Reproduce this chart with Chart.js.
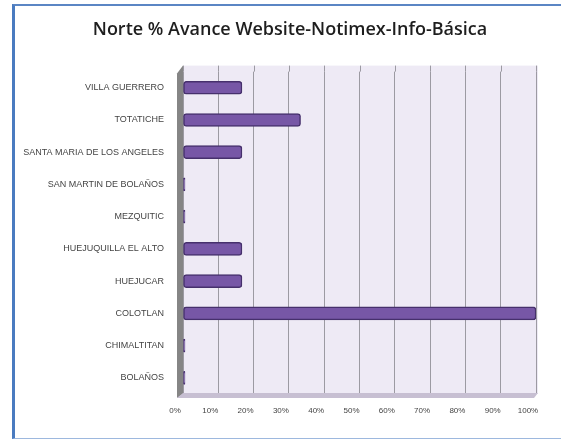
<!DOCTYPE html>
<html>
<head>
<meta charset="utf-8">
<script src="https://cdn.jsdelivr.net/npm/chart.js@4.4.1/dist/chart.umd.min.js"></script>
<style>
  html, body { margin: 0; padding: 0; background: #fff; }
  #wrap { position: relative; width: 561px; height: 439px; overflow: hidden; }
  #frame { position: absolute; left: 12px; top: 4px; width: 600px; height: 432px;
           border-left: 3px solid #4A7BC0; border-top: 2px solid #5B86C4; border-bottom: 1px solid #9DB8DE; }
  canvas { position: absolute; left: 0; top: 0; }
</style>
</head>
<body>
<div id="wrap">
  <div id="frame"></div>
  <canvas id="Chart1" width="561" height="439"></canvas>
</div>
<script>
const categories = [
    "VILLA GUERRERO",
    "TOTATICHE",
    "SANTA MARIA DE LOS ANGELES",
    "SAN MARTIN DE BOLAÑOS",
    "MEZQUITIC",
    "HUEJUQUILLA EL ALTO",
    "HUEJUCAR",
    "COLOTLAN",
    "CHIMALTITAN",
    "BOLAÑOS",
];
const avance = [0.167, 0.333, 0.167, 0, 0, 0.167, 0.167, 1, 0, 0];
const xTicks = [0, 0.1, 0.2, 0.3, 0.4, 0.5, 0.6, 0.7, 0.8, 0.9, 1];

// lavender back wall, grey side wall and floor (fake 3D)
const wallPlugin = {
    id: "walls",
    beforeDraw(chart) {
        const { ctx, chartArea: a } = chart;
        ctx.save();
        ctx.fillStyle = "#EEEAF5";
        ctx.fillRect(a.left, a.top - 6, a.right - a.left + 2, a.bottom - a.top + 6);
        ctx.strokeStyle = "#9C9AA2";
        ctx.lineWidth = 1;
        chart.scales.x.ticks.forEach((t) => {
            const x = Math.round(chart.scales.x.getPixelForValue(t.value)) + 0.5;
            ctx.beginPath();
            ctx.moveTo(x, a.top - 6);
            ctx.lineTo(x, a.top);
            ctx.stroke();
        });
        ctx.restore();
    },
    beforeDatasetsDraw(chart) {
        const { ctx, chartArea: a } = chart;
        ctx.save();
        ctx.fillStyle = "#858585";
        ctx.beginPath();
        ctx.moveTo(a.left - 6, a.top + 2);
        ctx.lineTo(a.left, a.top - 6);
        ctx.lineTo(a.left, a.bottom);
        ctx.lineTo(a.left - 6, a.bottom + 4);
        ctx.closePath();
        ctx.fill();
        ctx.fillStyle = "#C7BFD2";
        ctx.beginPath();
        ctx.moveTo(a.left, a.bottom - 1);
        ctx.lineTo(a.right + 2, a.bottom - 1);
        ctx.lineTo(a.right - 2, a.bottom + 4);
        ctx.lineTo(a.left - 6, a.bottom + 4);
        ctx.closePath();
        ctx.fill();
        ctx.restore();
    },
};

new Chart(document.getElementById("Chart1"), {
    type: "bar",
    data: {
        labels: categories,
        datasets: [
            {
                label: "% Avance",
                data: avance,
                backgroundColor: "#7757A6",
                borderColor: "#46306C",
                borderWidth: 1.5,
                borderRadius: 3,
                borderSkipped: false,
                barThickness: 13,
                minBarLength: 2,
            },
        ],
    },
    options: {
        indexAxis: "y",
        responsive: false,
        animation: false,
        layout: { padding: { left: 20, right: 1, top: 0, bottom: 15 } },
        plugins: {
            legend: { display: false },
            tooltip: { enabled: false },
            title: {
                display: true,
                text: "Norte % Avance Website-Notimex-Info-Básica",
                color: "#1E1E1E",
                font: { family: "Open Sans", size: 18, weight: 600 },
                padding: { top: 19, bottom: 31 },
            },
        },
        scales: {
            x: {
                min: 0,
                max: 1,
                afterBuildTicks(axis) {
                    axis.ticks = xTicks.map((v) => ({ value: v }));
                },
                afterFit(axis) { axis.height = 30; },
                grid: { color: "#9C9AA2", drawTicks: false },
                border: { display: false },
                ticks: {
                    color: "#444",
                    padding: 12,
                    labelOffset: -8,
                    font: { family: "Liberation Sans", size: 8 },
                    callback: (v) => Math.round(v * 100) + "%",
                },
            },
            y: {
                afterFit(axis) { axis.width = 163; },
                grid: { display: false },
                border: { display: false },
                ticks: {
                    color: "#444",
                    padding: 11,
                    font: { family: "Liberation Sans", size: 9 },
                },
            },
            // empty spacer on the right so the title centres like the original
            yRight: {
                type: "linear",
                position: "right",
                afterFit(axis) { axis.width = 24; },
                grid: { display: false },
                border: { display: false },
                ticks: { display: false },
            },
        },
    },
    plugins: [wallPlugin],
});
</script>
</body>
</html>
